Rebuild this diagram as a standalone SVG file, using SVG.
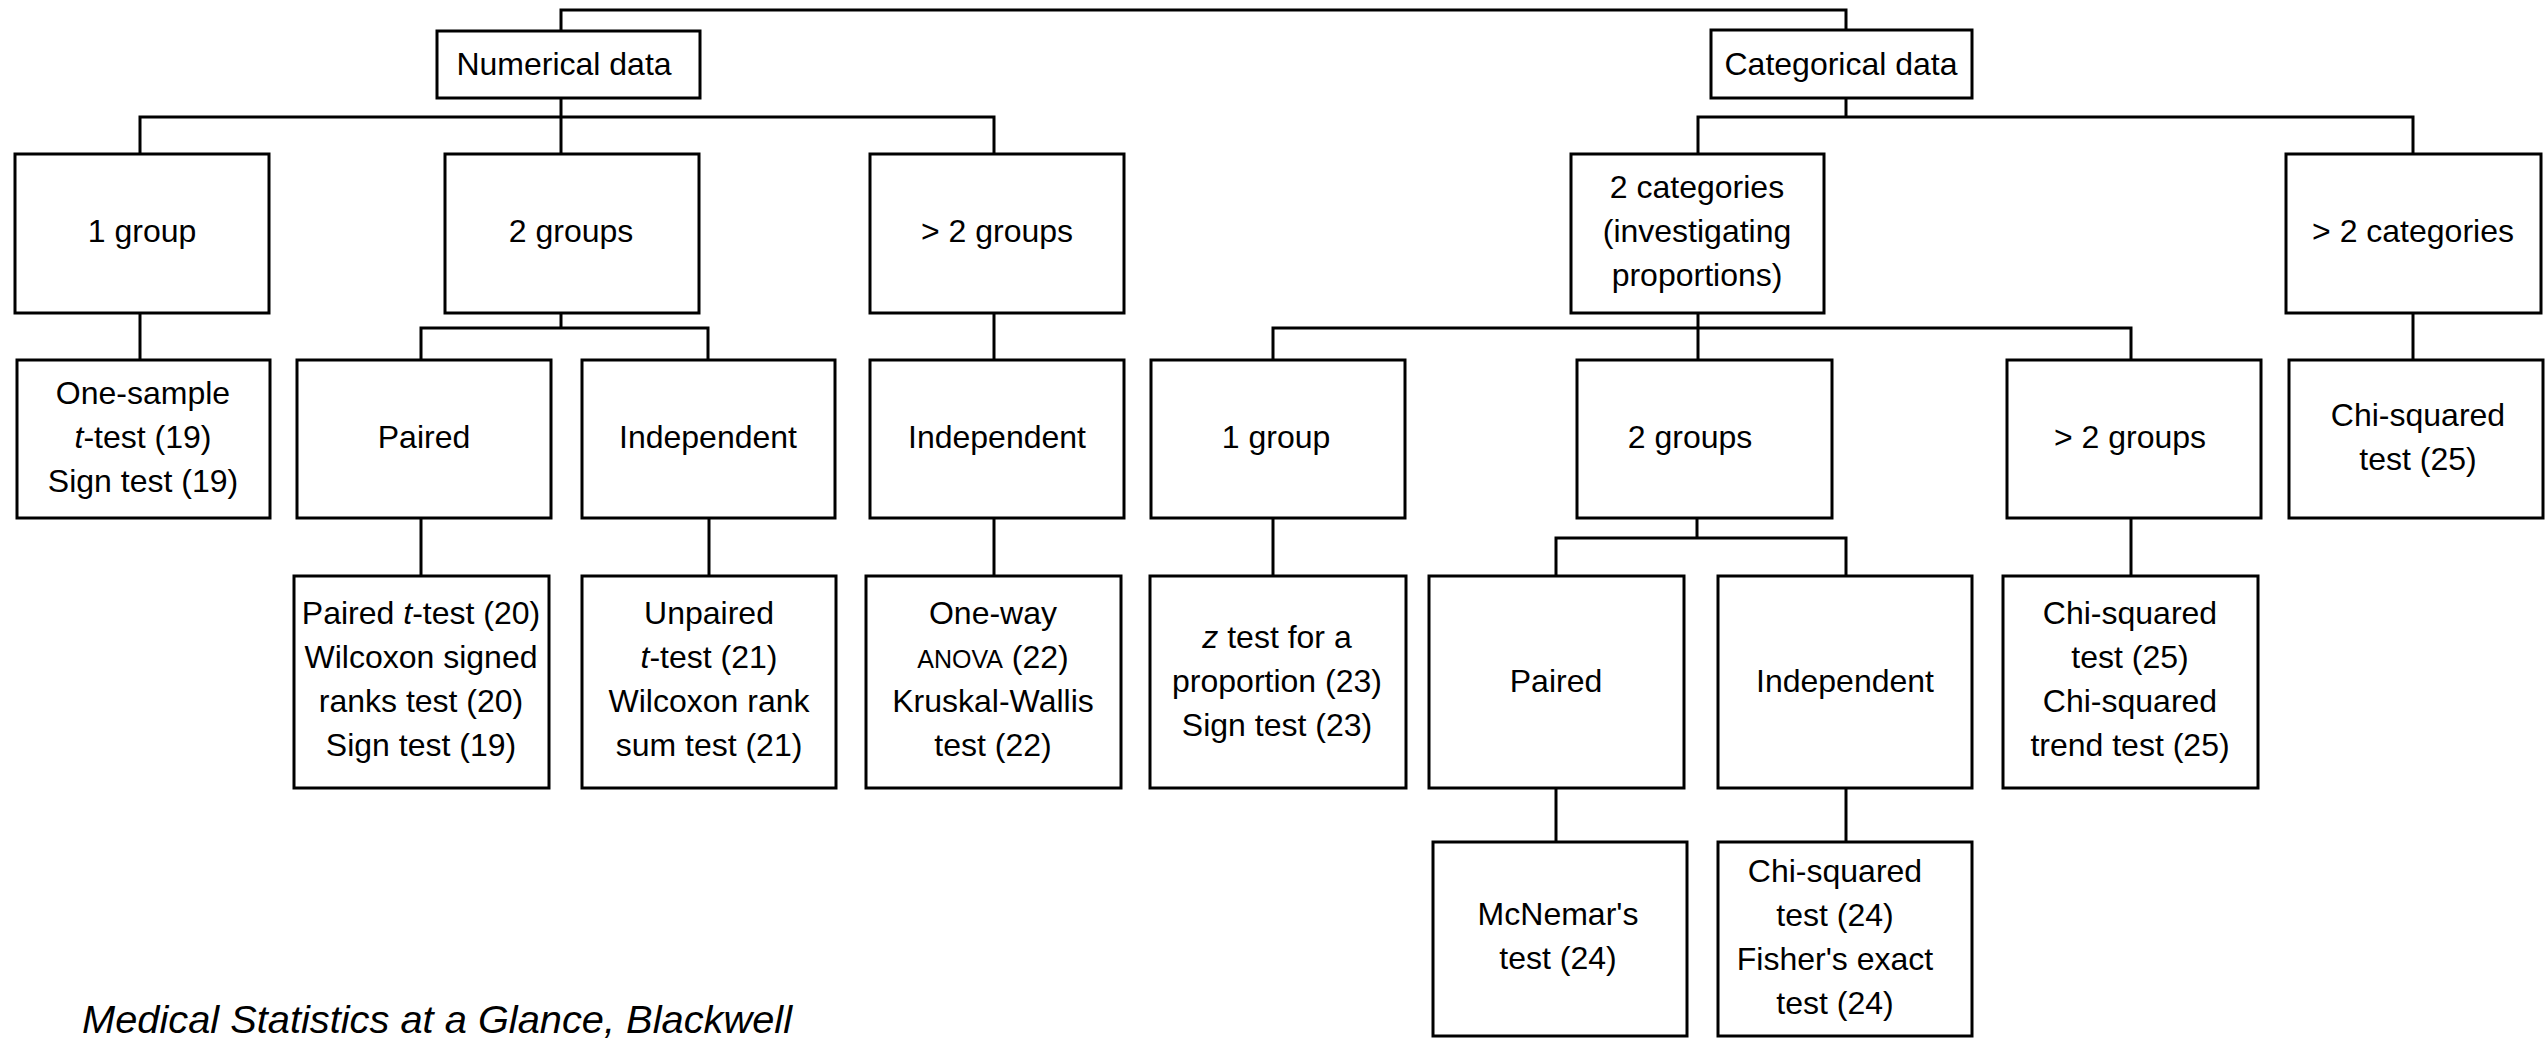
<svg xmlns="http://www.w3.org/2000/svg" width="2547" height="1038" viewBox="0 0 2547 1038">
<style>
rect.box{fill:#fff;stroke:#000;stroke-width:3}
text{font-family:"Liberation Sans",Arial,sans-serif;font-size:32px;fill:#000;text-anchor:middle}
.i{font-style:italic}
.sc{font-size:25px}
.conn path{fill:none;stroke:#000;stroke-width:3}
.foot{font-style:italic;font-size:38px;text-anchor:start}
</style>
<rect width="2547" height="1038" fill="#fff"/>
<g class="conn">
<path d="M561,31 V10 H1846 V29"/>
<path d="M561,98 V154"/>
<path d="M140,154 V117 H994 V154"/>
<path d="M1846,98 V117"/>
<path d="M1698,154 V117 H2413 V154"/>
<path d="M140,313 V360"/>
<path d="M561,313 V328"/>
<path d="M421,360 V328 H708 V360"/>
<path d="M994,313 V360"/>
<path d="M421,518 V576"/>
<path d="M709,518 V576"/>
<path d="M994,518 V576"/>
<path d="M1698,313 V360"/>
<path d="M1273,360 V328 H2131 V360"/>
<path d="M2413,313 V360"/>
<path d="M1273,518 V576"/>
<path d="M1697,518 V538"/>
<path d="M1556,576 V538 H1846 V576"/>
<path d="M2131,518 V576"/>
<path d="M1556,788 V842"/>
<path d="M1846,788 V842"/>
</g>
<g id="numerical"><rect class="box" x="437" y="31" width="263" height="67"/><text x="564" y="75">Numerical data</text></g>
<g id="categorical"><rect class="box" x="1711" y="30" width="261" height="68"/><text x="1841" y="75">Categorical data</text></g>

<g id="num-1group"><rect class="box" x="15" y="154" width="254" height="159"/><text x="142" y="242">1 group</text></g>
<g id="num-2groups"><rect class="box" x="445" y="154" width="254" height="159"/><text x="571" y="242">2 groups</text></g>
<g id="num-gt2groups"><rect class="box" x="870" y="154" width="254" height="159"/><text x="997" y="242">&gt; 2 groups</text></g>
<g id="cat-2cat"><rect class="box" x="1571" y="154" width="253" height="159"/><text x="1697" y="198">2 categories</text><text x="1697" y="242">(investigating</text><text x="1697" y="286">proportions)</text></g>
<g id="cat-gt2cat"><rect class="box" x="2286" y="154" width="255" height="159"/><text x="2413" y="242">&gt; 2 categories</text></g>

<g id="one-sample"><rect class="box" x="17" y="360" width="253" height="158"/><text x="143" y="404">One-sample</text><text x="143" y="448"><tspan class="i">t</tspan>-test (19)</text><text x="143" y="492">Sign test (19)</text></g>
<g id="num-paired"><rect class="box" x="297" y="360" width="254" height="158"/><text x="424" y="448">Paired</text></g>
<g id="num-independent"><rect class="box" x="582" y="360" width="253" height="158"/><text x="708" y="448">Independent</text></g>
<g id="num-independent2"><rect class="box" x="870" y="360" width="254" height="158"/><text x="997" y="448">Independent</text></g>
<g id="cat-1group"><rect class="box" x="1151" y="360" width="254" height="158"/><text x="1276" y="448">1 group</text></g>
<g id="cat-2groups"><rect class="box" x="1577" y="360" width="255" height="158"/><text x="1690" y="448">2 groups</text></g>
<g id="cat-gt2groups"><rect class="box" x="2007" y="360" width="254" height="158"/><text x="2130" y="448">&gt; 2 groups</text></g>
<g id="chisq25a"><rect class="box" x="2289" y="360" width="254" height="158"/><text x="2418" y="426">Chi-squared</text><text x="2418" y="470">test (25)</text></g>

<g id="paired-tests"><rect class="box" x="294" y="576" width="255" height="212"/><text x="421" y="624">Paired <tspan class="i">t</tspan>-test (20)</text><text x="421" y="668">Wilcoxon signed</text><text x="421" y="712">ranks test (20)</text><text x="421" y="756">Sign test (19)</text></g>
<g id="unpaired-tests"><rect class="box" x="582" y="576" width="254" height="212"/><text x="709" y="624">Unpaired</text><text x="709" y="668"><tspan class="i">t</tspan>-test (21)</text><text x="709" y="712">Wilcoxon rank</text><text x="709" y="756">sum test (21)</text></g>
<g id="anova-tests"><rect class="box" x="866" y="576" width="255" height="212"/><text x="993" y="624">One-way</text><text x="993" y="668"><tspan class="sc">ANOVA</tspan> (22)</text><text x="993" y="712">Kruskal-Wallis</text><text x="993" y="756">test (22)</text></g>
<g id="ztest"><rect class="box" x="1150" y="576" width="256" height="212"/><text x="1277" y="648"><tspan class="i">z</tspan> test for a</text><text x="1277" y="692">proportion (23)</text><text x="1277" y="736">Sign test (23)</text></g>
<g id="cat-paired"><rect class="box" x="1429" y="576" width="255" height="212"/><text x="1556" y="692">Paired</text></g>
<g id="cat-independent"><rect class="box" x="1718" y="576" width="254" height="212"/><text x="1845" y="692">Independent</text></g>
<g id="chisq25b"><rect class="box" x="2003" y="576" width="255" height="212"/><text x="2130" y="624">Chi-squared</text><text x="2130" y="668">test (25)</text><text x="2130" y="712">Chi-squared</text><text x="2130" y="756">trend test (25)</text></g>

<g id="mcnemar"><rect class="box" x="1433" y="842" width="254" height="194"/><text x="1558" y="925">McNemar's</text><text x="1558" y="969">test (24)</text></g>
<g id="chisq24"><rect class="box" x="1718" y="842" width="254" height="194"/><text x="1835" y="882">Chi-squared</text><text x="1835" y="926">test (24)</text><text x="1835" y="970">Fisher's exact</text><text x="1835" y="1014">test (24)</text></g>

<text class="foot" x="82" y="1033" textLength="710" lengthAdjust="spacingAndGlyphs">Medical Statistics at a Glance, Blackwell</text>
</svg>
